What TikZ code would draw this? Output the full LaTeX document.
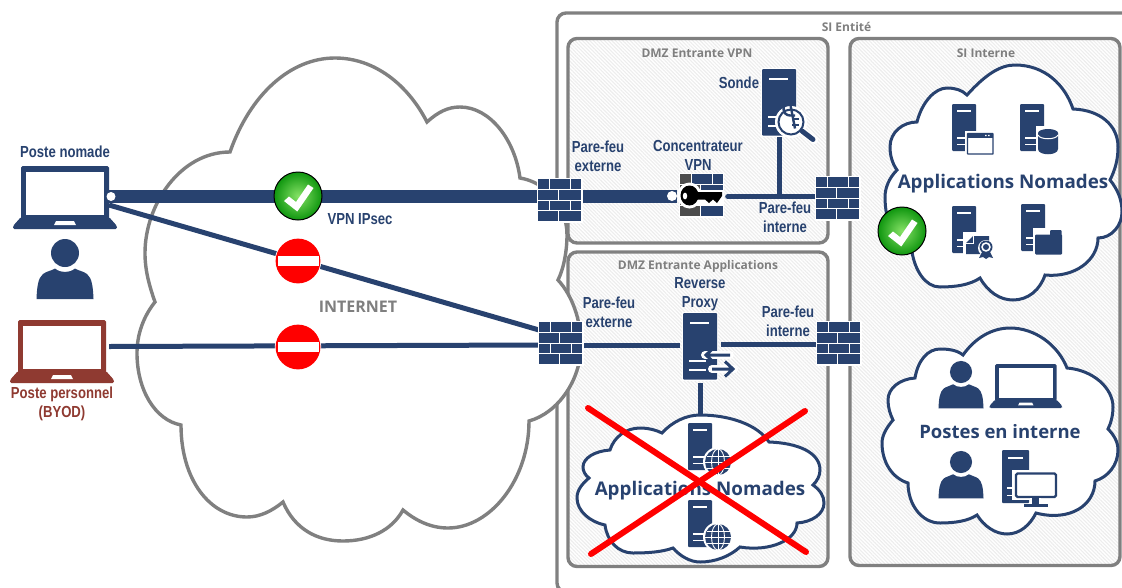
\documentclass[tikz,border=0pt]{standalone}
\usepackage{fontspec}
\usetikzlibrary{patterns.meta,shadings}
\setmainfont{Liberation Sans}
\newfontfamily\narf[FakeStretch=0.82]{Liberation Sans}
\newfontfamily\titf{Open Sans}
\definecolor{navy}{HTML}{28426F}
\definecolor{brick}{HTML}{8F3A31}
\definecolor{bordergray}{HTML}{808080}
\definecolor{txtgray}{HTML}{7F7F7F}
\definecolor{darkbrick}{HTML}{4D4D4D}
\definecolor{okin}{HTML}{86E266}
\definecolor{okout}{HTML}{0F960F}
\tikzset{
  area/.style={draw=bordergray,line width=3.4pt,rounded corners=9pt,pattern={Lines[angle=-45,distance=2.6pt,line width=1.1pt]},pattern color=black!7},
  cloudgray/.style={draw=bordergray,line width=3.4pt,fill=white,line join=miter},
  cloudnavy/.style={draw=navy,line width=3pt,fill=white,line join=miter},
  linkthick/.style={draw=navy,line width=13pt},
  linkthin/.style={draw=navy,line width=5pt},
  lab/.style={font=\narf\bfseries\fontsize{16}{19}\selectfont,text=navy,align=center,inner sep=0pt},
  titlegray/.style={font=\titf\bfseries\fontsize{12}{15}\selectfont,text=txtgray,inner sep=0pt},
  bigtitle/.style={font=\titf\bfseries\fontsize{18.8}{23}\selectfont,text=navy,inner sep=0pt},
  redcross/.style={draw=red,line width=6pt,line cap=round},
}
% laptop: origin at top-left of the frame
\newcommand{\iconLaptop}[4]{\begin{scope}[shift={(#1,#2)},scale=#3]
  \fill[#4,rounded corners=1.5pt] (0,0) rectangle (88,53);
  \fill[white] (5,6) rectangle (83,49);
  \fill[#4,rounded corners=1.5pt] (0,51) -- (-8,60) -- (-8,63) -- (96,63) -- (96,60) -- (88,51) -- cycle;
  \fill[white] (35,55) -- (53,55) -- (55,59) -- (33,59) -- cycle;
\end{scope}}
% person: origin at the centre of the head
\newcommand{\iconPerson}[3]{\begin{scope}[shift={(#1,#2)},scale=#3]
  \fill[navy] (0,0) circle (14);
  \fill[navy] (-28.5,46) .. controls (-28,34) and (-27,25) .. (-22,21) .. controls (-18,18) and (-14,18) .. (-10,15.5) .. controls (-5,20) and (5,20) .. (10,15.5) .. controls (14,18) and (18,18) .. (22,21) .. controls (27,25) and (28,34) .. (28.5,46) -- cycle;
\end{scope}}
% server: origin at top-left, 24 x 47
\newcommand{\iconServer}[3]{\begin{scope}[shift={(#1,#2)},scale=#3]
  \fill[white,rounded corners=1pt] (-.8,-.8) rectangle (24.8,47.8);
  \fill[navy,rounded corners=1pt] (0,0) rectangle (24,47);
  \fill[white] (5,6.3) rectangle (18.5,7.9);
  \fill[white] (4.5,33) rectangle (16,34.5);
  \fill[white] (4.5,39.5) rectangle (16,41);
\end{scope}}
% firewall: origin at top-left, 43 x 42
\newcommand{\brickRows}[2]{%
  \foreach \ya in {0,21.6}{
    \fill[#1] (0,\ya) rectangle (10.7,\ya+9.8);
    \fill[#2] (11.9,\ya) rectangle (31.7,\ya+9.8);
    \fill[#2] (32.9,\ya) rectangle (43,\ya+9.8);
    \fill[#2] (0,\ya+10.8) rectangle (20.2,\ya+20.6);
    \fill[#2] (21.4,\ya+10.8) rectangle (43,\ya+20.6);
  }}
\newcommand{\iconWall}[2]{\begin{scope}[shift={(#1,#2)}]
  \fill[white] (-1.5,-1.5) rectangle (44.5,43.5);
  \brickRows{navy}{navy}
\end{scope}}
% check badge
\newcommand{\iconOk}[2]{\begin{scope}[shift={(#1,#2)}]
  \shade[inner color=okin,outer color=okout,draw=black,line width=1pt] (0,0) circle (24);
  \fill[white] (-14,5) -- (-9,0.5) -- (-2,6) -- (10,-11.5) -- (15.5,-8) -- (-.7,15.5) -- cycle;
\end{scope}}
% no entry sign
\newcommand{\iconStop}[2]{\begin{scope}[shift={(#1,#2)}]
  \fill[white] (0,0) circle (23.2);
  \fill[red] (0,0) circle (22.4);
  \fill[white] (-20.5,-5) rectangle (20.5,5);
\end{scope}}
% globe
\newcommand{\iconGlobe}[2]{\begin{scope}[shift={(#1,#2)}]
  \fill[white] (0,0) circle (15);
  \fill[navy] (0,0) circle (13);
  \draw[white,line width=.9pt] (0,-13) -- (0,13) (-13,0) -- (13,0) (-11.5,-6) -- (11.5,-6) (-11.5,6) -- (11.5,6);
  \draw[white,line width=.9pt] (0,0) ellipse (6.5 and 13);
\end{scope}}
\begin{document}
\begin{tikzpicture}[x=1pt,y=-1pt]
\useasboundingbox (0,0) rectangle (1122,587);
\fill[white] (0,0) rectangle (1122,587);
\begin{scope}
\clip (0,0) rectangle (1122,587);
\draw[draw=bordergray,line width=3.4pt,rounded corners=9pt] (557,13) rectangle (1180,592);
\end{scope}
\path[area] (568,38.5) rectangle (828,243);
\path[area] (568,252) rectangle (828,566.5);
\begin{scope}
\clip (840,0) rectangle (1122,587);
\path[area] (850,38.5) rectangle (1120,565.5);
\end{scope}

% INTERNET cloud
\draw[cloudgray] (230,152) .. controls (250,95) and (290,58) .. (335,58)
 .. controls (375,58) and (408,85) .. (427,122)
 .. controls (438,112) and (448,107) .. (460,107)
 .. controls (490,107) and (515,140) .. (520,178)
 .. controls (545,182) and (567,205) .. (567,235)
 .. controls (567,250) and (564,268) .. (558,280)
 .. controls (572,295) and (581,320) .. (581,345)
 .. controls (581,380) and (558,413) .. (529,421)
 .. controls (529,480) and (490,528) .. (448,528)
 .. controls (430,528) and (415,520) .. (403,510)
 .. controls (392,530) and (370,541) .. (343,541)
 .. controls (318,541) and (295,530) .. (283,502)
 .. controls (272,511) and (260,517) .. (247,517)
 .. controls (210,517) and (181,480) .. (181,425)
 .. controls (155,420) and (137,390) .. (137,353)
 .. controls (137,335) and (143,317) .. (155,302)
 .. controls (149,285) and (145,270) .. (145,253)
 .. controls (145,205) and (180,152) .. (230,152) -- cycle;

% blue clouds
\draw[cloudnavy] (967,95) .. controls (985,75) and (1000,65) .. (1015,65)
 .. controls (1045,65) and (1065,85) .. (1073,109)
 .. controls (1100,110) and (1118,125) .. (1118,147)
 .. controls (1118,160) and (1115,170) .. (1110,180)
 .. controls (1118,190) and (1122,200) .. (1122,212)
 .. controls (1122,225) and (1112,238) .. (1098,238)
 .. controls (1098,260) and (1075,278) .. (1045,275)
 .. controls (1040,290) and (1028,300) .. (1013,300)
 .. controls (1000,300) and (988,292) .. (980,278)
 .. controls (970,285) and (955,287) .. (940,287)
 .. controls (925,287) and (915,270) .. (912,252)
 .. controls (895,245) and (885,222) .. (885,197)
 .. controls (885,188) and (889,178) .. (897,170)
 .. controls (892,163) and (890,155) .. (890,147)
 .. controls (890,132) and (903,122) .. (917,122)
 .. controls (922,102) and (935,88) .. (947,88)
 .. controls (955,88) and (962,90) .. (967,95) -- cycle;
\draw[cloudnavy] (963,355) .. controls (975,338) and (992,328) .. (1010,328)
 .. controls (1035,328) and (1058,345) .. (1067,368)
 .. controls (1093,370) and (1113,388) .. (1113,407)
 .. controls (1113,415) and (1111,423) .. (1108,429)
 .. controls (1114,435) and (1118,442) .. (1118,450)
 .. controls (1118,465) and (1108,477) .. (1095,481)
 .. controls (1095,505) and (1070,522) .. (1036,513)
 .. controls (1030,525) and (1020,534) .. (1007,534)
 .. controls (995,534) and (984,526) .. (977,515)
 .. controls (968,521) and (955,523) .. (940,523)
 .. controls (922,523) and (908,505) .. (908,483)
 .. controls (892,478) and (882,462) .. (882,443)
 .. controls (882,435) and (887,427) .. (893,420)
 .. controls (890,414) and (888,407) .. (888,400)
 .. controls (888,388) and (900,379) .. (915,378)
 .. controls (918,360) and (928,349) .. (940,349)
 .. controls (948,349) and (957,350) .. (963,355) -- cycle;
\draw[cloudnavy] (662,433) .. controls (672,422) and (686,415) .. (700,415)
 .. controls (730,415) and (758,425) .. (769,442)
 .. controls (797,443) and (820,452) .. (820,470)
 .. controls (820,476) and (817,481) .. (813,485)
 .. controls (820,490) and (824,496) .. (824,503)
 .. controls (824,514) and (812,522) .. (797,523)
 .. controls (797,540) and (770,552) .. (740,547)
 .. controls (730,556) and (716,562) .. (700,562)
 .. controls (690,562) and (680,556) .. (673,548)
 .. controls (662,552) and (648,553) .. (633,553)
 .. controls (618,553) and (607,541) .. (605,525)
 .. controls (590,522) and (577,511) .. (577,498)
 .. controls (577,490) and (582,484) .. (589,478)
 .. controls (585,475) and (583,471) .. (583,467)
 .. controls (583,458) and (595,451) .. (610,450)
 .. controls (614,437) and (626,428) .. (640,428)
 .. controls (648,428) and (656,430) .. (662,433) -- cycle;

% anchor nodes of the icons
\node[inner sep=0pt,minimum width=88pt,minimum height=62pt] (lapA) at (65,196.5) {};
\node[inner sep=0pt,minimum width=88pt,minimum height=62pt] (lapB) at (65,346.5) {};
\node[inner sep=0pt,minimum width=44pt,minimum height=42pt] (fwA) at (559.5,196.5) {};
\node[inner sep=0pt,minimum width=44pt,minimum height=42pt] (fwB) at (836.5,196.5) {};
\node[inner sep=0pt,minimum width=44pt,minimum height=42pt] (fwC) at (560.5,345) {};
\node[inner sep=0pt,minimum width=44pt,minimum height=42pt] (fwD) at (838,344.5) {};
\node[inner sep=0pt,minimum width=46pt,minimum height=42pt] (vpn) at (700.5,196.5) {};
\node[inner sep=0pt,minimum width=36pt,minimum height=68pt] (sonde) at (779.5,102) {};
\node[inner sep=0pt,minimum width=40pt,minimum height=72pt] (proxy) at (700.5,347) {};
\coordinate (cloudtop) at (700.5,416);
\coordinate (junction) at (779.5,196.5);
\coordinate (lapAlow) at (109,205);
\coordinate (fwCtop) at (539,330);

% connectors
\draw[linkthick] (lapA.east) -- (lapA.east -| fwA.west);
\draw[linkthick] (fwA.east) -- (fwA.east -| vpn.west);
\draw[linkthin] (lapAlow) -- (fwCtop);
\draw[linkthin] (lapB.east) -- (fwC.west);
\draw[linkthin] (fwC.east) -- (fwC.east -| proxy.west);
\draw[linkthin] (proxy.east |- fwD.west) -- (fwD.west);
\draw[linkthin] (proxy.south) -- (cloudtop);
\draw[linkthin,line cap=round] (vpn.east) ++(4,0) -- (fwB.west);
\draw[linkthin] (sonde.south) -- (junction);

% laptops and people
\iconLaptop{21}{166}{1}{navy}
\iconLaptop{18}{320}{1}{brick}
\iconLaptop{995}{364}{.7}{navy}
\iconPerson{65}{253}{1}
\iconPerson{961}{372}{.79}
\iconPerson{961}{462}{.79}
\fill[white] (111,196.5) circle (4.5);
\fill[white] (672,196) circle (5);

% walls
\iconWall{538}{179}
\iconWall{816}{177}
\iconWall{539}{322}
\iconWall{817}{322}

% VPN concentrator
\begin{scope}[shift={(680,174)}]
  \fill[white] (-1.5,-1.5) rectangle (44,44);
  \brickRows{darkbrick}{navy}
  \fill[darkbrick] (0,32.4) rectangle (20.2,42.2);
  \fill[darkbrick] (0,10.8) rectangle (20.2,20.6);
\end{scope}
\fill[white] (689.5,195.5) ellipse (12 and 13);
\fill[white] (697,189.5) rectangle (724,205.5);
\fill[black] (689.5,195.5) ellipse (9 and 10);
\fill[black] (697,192) -- (722,192) -- (722,196) -- (717,203) -- (713,199.5) -- (709,203) -- (705,199.5) -- (697,199.5) -- cycle;
\fill[white] (685,196) ellipse (2.2 and 3.4);

% servers
\iconServer{762}{69}{1.42}
\iconServer{683}{313}{1.42}
\iconServer{952}{104}{1}
\iconServer{1020}{104}{1}
\iconServer{952}{206}{1}
\iconServer{1021}{204}{1}
\iconServer{688}{423}{1}
\iconServer{688}{500}{1}
\iconServer{1002}{450}{1.13}

% magnifier
\fill[white] (791,122) circle (16);
\draw[white,line width=8pt,line cap=round] (802,131) -- (814,140);
\draw[navy,line width=2pt] (791,122) circle (12.5);
\draw[navy,line width=5pt,line cap=round] (802,131) -- (813,139.5);
\draw[navy,line width=2.4pt] (795,115.5) -- (790,115.5) arc (90:270:6.5) -- (795,128.5);
\draw[navy,line width=2.2pt] (792,119) -- (799,119) (792,125) -- (799,125);

% reverse proxy arrows
\draw[white,line width=8pt,line cap=round] (705,355) -- (730,355) (712,369) -- (734,369);
\draw[navy,line width=3pt] (730,355) -- (707,355) (714,347.5) -- (706,355) -- (714,362.5);
\draw[navy,line width=3pt] (712,369) -- (732,369) (725,361.5) -- (733,369) -- (725,376.5);

% window
\fill[white] (965,131) rectangle (995,156);
\draw[navy,line width=1.4pt,fill=white,rounded corners=.5pt] (967.5,133.5) rectangle (993,154);
\fill[navy] (967.5,133.5) rectangle (993,137.5);
\fill[white] (985,134.8) rectangle (986.5,136.2) (988.2,134.8) rectangle (989.7,136.2);
% database
\fill[white] (1035.5,126) rectangle (1060.5,156.5);
\fill[navy] (1038,133) -- (1058,133) -- (1058,149) .. controls (1058,156) and (1038,156) .. (1038,149) -- cycle;
\fill[navy] (1048,133) ellipse (10 and 4);
\draw[white,line width=1pt] (1038,135) .. controls (1040,140) and (1056,140) .. (1058,135);
% certificate
\fill[white] (963,232) rectangle (992,256);
\fill[navy] (973,236) -- (989,236) -- (989,254) -- (966,254) -- (966,243) -- cycle;
\draw[white,line width=1pt] (966,243) -- (973,243) -- (973,236);
\fill[white] (986,248) circle (8);
\fill[navy] (982,252) -- (979,258) -- (983,257) -- (986,259) -- (989,257) -- (993,258) -- (990,252) -- cycle;
\fill[navy] (986,247) circle (6.5);
\fill[white] (986,247) circle (4.8);
\fill[navy] (986,247) circle (3);
% folder
\fill[white] (1033,228) rectangle (1063,257);
\fill[navy,rounded corners=1pt] (1035,234.5) rectangle (1062,254.5);
\fill[navy,rounded corners=1pt] (1050,230) rectangle (1061.5,236);
% desktop
\fill[white] (1012,470) rectangle (1059,500);
\draw[navy,line width=2.2pt,fill=white,rounded corners=1.5pt] (1016,473.5) rectangle (1056,497);
\fill[white] (1030,498) rectangle (1041,503);
\fill[navy] (1032,497) rectangle (1039,504);
\fill[navy] (1024,503.5) rectangle (1048,507);
% globes
\iconGlobe{718}{462}
\iconGlobe{718}{537}

% texts
\node[lab] (tNom) at (65,152) {Poste nomade};
\node[lab,text=brick] (tPer) at (62,404) {Poste personnel\\(BYOD)};
\node[lab] (tVpn) at (360,219) {VPN IPsec};
\node[font=\titf\bfseries\fontsize{16}{19}\selectfont,text=txtgray,inner sep=0pt] (tInt) at (358,306.5) {INTERNET};
\node[titlegray] (tSi) at (846.5,27) {SI Entité};
\node[titlegray] (tDv) at (697,53) {DMZ Entrante VPN};
\node[titlegray] (tSii) at (986,53) {SI Interne};
\node[titlegray] (tDa) at (698,266.5) {DMZ Entrante Applications};
\node[lab] (tSo) at (739,83) {Sonde};
\node[lab] (tPf1) at (598,156) {Pare-feu\\externe};
\node[lab] (tCon) at (698,155.5) {Concentrateur\\VPN};
\node[lab] (tPf2) at (785,217) {Pare-feu\\interne};
\node[lab] (tPf3) at (609,312.5) {Pare-feu\\externe};
\node[lab] (tRev) at (700,294.5) {Reverse\\Proxy};
\node[lab] (tPf4) at (788,321.5) {Pare-feu\\interne};
\node[bigtitle] (tAn1) at (1003,184) {Applications Nomades};
\node[bigtitle] (tAn2) at (700,490.5) {Applications Nomades};
\node[font=\titf\bfseries\fontsize{18.5}{22}\selectfont,text=navy,inner sep=0pt] (tPi) at (1000,432) {Postes en interne};

% badges
\iconOk{298}{196}
\iconOk{902}{231}
\iconStop{298}{261}
\iconStop{298}{347}

% red cross
\coordinate (xa) at (588,408);
\coordinate (xb) at (806,552);
\coordinate (xc) at (805,411);
\coordinate (xd) at (591,554);
\draw[redcross] (xa) -- (xb);
\draw[redcross] (xc) -- (xd);
\end{tikzpicture}
\end{document}
